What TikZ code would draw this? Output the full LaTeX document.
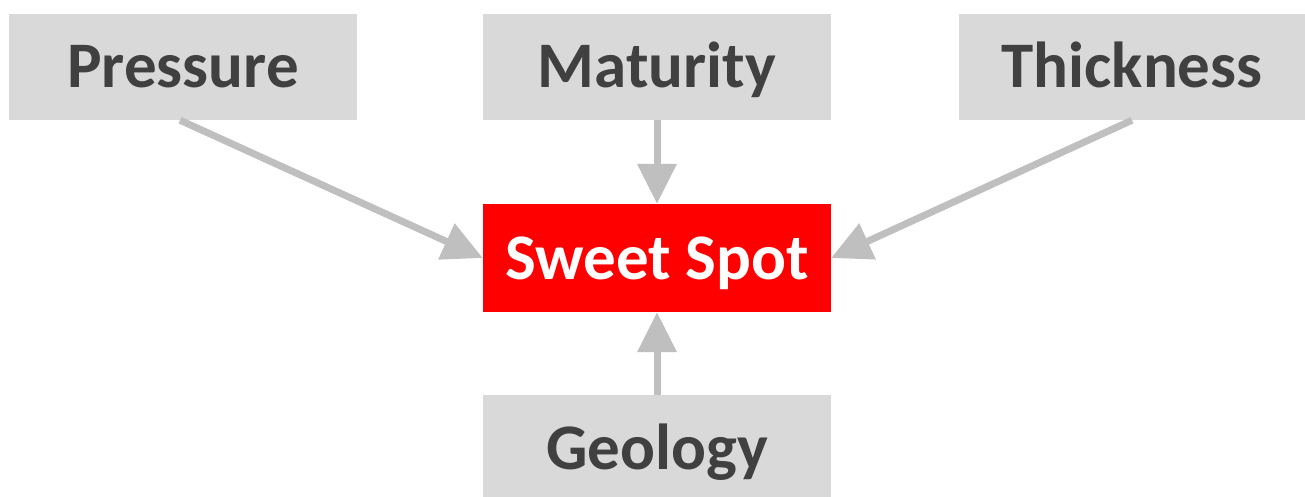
\documentclass[tikz,border=0pt]{standalone}
\usepackage{fontspec}
\setmainfont{Carlito}
\usetikzlibrary{arrows.meta}
\definecolor{boxgray}{HTML}{D9D9D9}
\definecolor{txtgray}{HTML}{404040}
\definecolor{arrgray}{HTML}{BFBFBF}
\definecolor{hotred}{HTML}{FF0000}
\begin{document}
\begin{tikzpicture}[x=1pt,y=-1pt,
  factor/.style={fill=boxgray,text=txtgray,inner sep=0pt,minimum width=348pt,minimum height=106pt,
    text height=42pt,text depth=0pt,font=\fontsize{65}{78}\selectfont\bfseries},
  target/.style={fill=hotred,text=white,inner sep=0pt,minimum width=348pt,minimum height=108pt,
    text height=42pt,text depth=0pt,font=\fontsize{65}{78}\selectfont\bfseries},
  link/.style={draw=arrgray,line width=7pt,-{Triangle[length=40pt,width=38pt]}}]
\useasboundingbox (0,0) rectangle (1305,497);
\node[factor] (P) at (183,67) {Pressure};
\node[factor] (M) at (657,67) {Maturity};
\node[factor,minimum width=346pt] (T) at (1132,67) {Thickness};
\node[target] (S) at (657,258) {Sweet Spot};
\node[factor] (G) at (657,448) {Geology};
\draw[link] ([xshift=-3pt]P.south) -- (S.west);
\draw[link] (M.south) -- (S.north);
\draw[link] (T.south) -- (S.east);
\draw[link] (G.north) -- (S.south);
\end{tikzpicture}
\end{document}
